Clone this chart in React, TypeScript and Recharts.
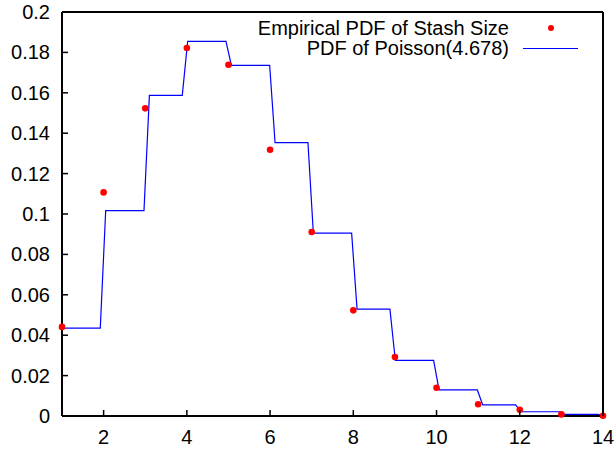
import React from 'react';
import {
  ComposedChart,
  Line,
  Scatter,
  XAxis,
  YAxis,
} from 'recharts';

// empirical pdf, one point per stash size
const stashSizes = [1, 2, 3, 4, 5, 6, 7, 8, 9, 10, 11, 12, 13, 14];
const empiricalPdf = [
  0.0441, 0.1107, 0.1523, 0.1822, 0.1739, 0.1318, 0.0911, 0.0523, 0.0292, 0.014,
  0.0058, 0.0031, 0.0008, 0.0001,
];

// poisson(4.678) pdf as gnuplot sampled it: each level runs from levelStart to levelEnd
const poissonLevel = [
  0.0435, 0.1017, 0.1587, 0.1855, 0.1736, 0.1353, 0.0905, 0.0529, 0.0275, 0.0129,
  0.0055, 0.0021, 0.0008, 0.0003,
];
const levelStart = [1, 2.05, 3.1, 4.02, 5.07, 6.12, 7.04, 8.09, 9.01, 10.06, 11.11, 12.03, 13.08, 14];
const levelEnd = [1.92, 2.97, 3.89, 4.94, 5.99, 6.91, 7.96, 8.88, 9.93, 10.98, 11.9, 12.95, 13.87, 14];

const xTicks = [2, 4, 6, 8, 10, 12, 14];
const yTicks = [0, 0.02, 0.04, 0.06, 0.08, 0.1, 0.12, 0.14, 0.16, 0.18, 0.2];

const empiricalData = stashSizes.map((x, i) => ({ x, y: empiricalPdf[i] }));
const poissonData = poissonLevel.flatMap((y, i) => [
  { x: levelStart[i], y },
  { x: levelEnd[i], y },
]);

const FONT = '"Liberation Sans", Arial, sans-serif';
const TICK = 6;

const BottomTick = (props: any) => {
  const { x, y, payload } = props;
  return (
    <g>
      <line x1={x} y1={y} x2={x} y2={y - TICK} stroke="#000" strokeWidth={1.5} />
      <text x={x} y={y + 28} textAnchor="middle" fontFamily={FONT} fontSize={20} fill="#000">
        {payload.value}
      </text>
    </g>
  );
};

const LeftTick = (props: any) => {
  const { x, y, payload } = props;
  return (
    <g>
      <line x1={x} y1={y} x2={x + TICK} y2={y} stroke="#000" strokeWidth={1.5} />
      <text x={x - 12} y={y + 7} textAnchor="end" fontFamily={FONT} fontSize={20} fill="#000">
        {payload.value}
      </text>
    </g>
  );
};

const TopTick = (props: any) => {
  const { x, y } = props;
  return <line x1={x} y1={y} x2={x} y2={y + TICK} stroke="#000" strokeWidth={1.5} />;
};

const RightTick = (props: any) => {
  const { x, y } = props;
  return <line x1={x} y1={y} x2={x - TICK} y2={y} stroke="#000" strokeWidth={1.5} />;
};

const RedDot = (props: any) => <circle cx={props.cx} cy={props.cy} r={3.3} fill="#ff0000" />;

const legendText: React.CSSProperties = {
  position: 'absolute',
  right: 107,
  fontFamily: FONT,
  fontSize: 20,
  lineHeight: '20px',
  whiteSpace: 'nowrap',
  color: '#000',
};

export default function App() {
  // placed over the whole page so the labels near the edges are not clipped
  return (
    <div style={{ position: 'absolute', left: 0, top: 0, width: 616, height: 449 }}>
      <ComposedChart width={616} height={449} margin={{ top: 8, right: 8, bottom: 0, left: 8 }}>
        <XAxis
          xAxisId="bottom"
          type="number"
          dataKey="x"
          domain={[1, 14]}
          ticks={xTicks}
          interval={0}
          height={33}
          tickSize={0}
          tickMargin={0}
          tickLine={false}
          tick={BottomTick}
          axisLine={{ stroke: '#000', strokeWidth: 2 }}
        />
        <XAxis
          xAxisId="top"
          orientation="top"
          type="number"
          dataKey="x"
          domain={[1, 14]}
          ticks={xTicks}
          interval={0}
          height={4}
          tickSize={0}
          tickMargin={0}
          tickLine={false}
          tick={TopTick}
          axisLine={{ stroke: '#000', strokeWidth: 2 }}
        />
        <YAxis
          yAxisId="left"
          type="number"
          dataKey="y"
          domain={[0, 0.2]}
          ticks={yTicks}
          interval={0}
          width={54}
          tickSize={0}
          tickMargin={0}
          tickLine={false}
          tick={LeftTick}
          axisLine={{ stroke: '#000', strokeWidth: 2 }}
        />
        <YAxis
          yAxisId="right"
          orientation="right"
          type="number"
          dataKey="y"
          domain={[0, 0.2]}
          ticks={yTicks}
          interval={0}
          width={5}
          tickSize={0}
          tickMargin={0}
          tickLine={false}
          tick={RightTick}
          axisLine={{ stroke: '#000', strokeWidth: 2 }}
        />
        <Line
          xAxisId="bottom"
          yAxisId="left"
          data={poissonData}
          dataKey="y"
          type="linear"
          stroke="#0000ff"
          strokeWidth={1.2}
          dot={false}
          isAnimationActive={false}
        />
        <Scatter
          xAxisId="bottom"
          yAxisId="left"
          data={empiricalData}
          dataKey="y"
          shape={RedDot}
          isAnimationActive={false}
        />
      </ComposedChart>
      <div style={{ ...legendText, top: 18 }}>Empirical PDF of Stash Size</div>
      <div style={{ ...legendText, top: 38 }}>PDF of Poisson(4.678)</div>
      <div
        style={{
          position: 'absolute',
          left: 547.5,
          top: 24.5,
          width: 6.5,
          height: 6.5,
          borderRadius: '50%',
          background: '#ff0000',
        }}
      />
      <div
        style={{
          position: 'absolute',
          left: 523,
          top: 47.5,
          width: 55,
          height: 1.2,
          background: '#0000ff',
        }}
      />
    </div>
  );
}
